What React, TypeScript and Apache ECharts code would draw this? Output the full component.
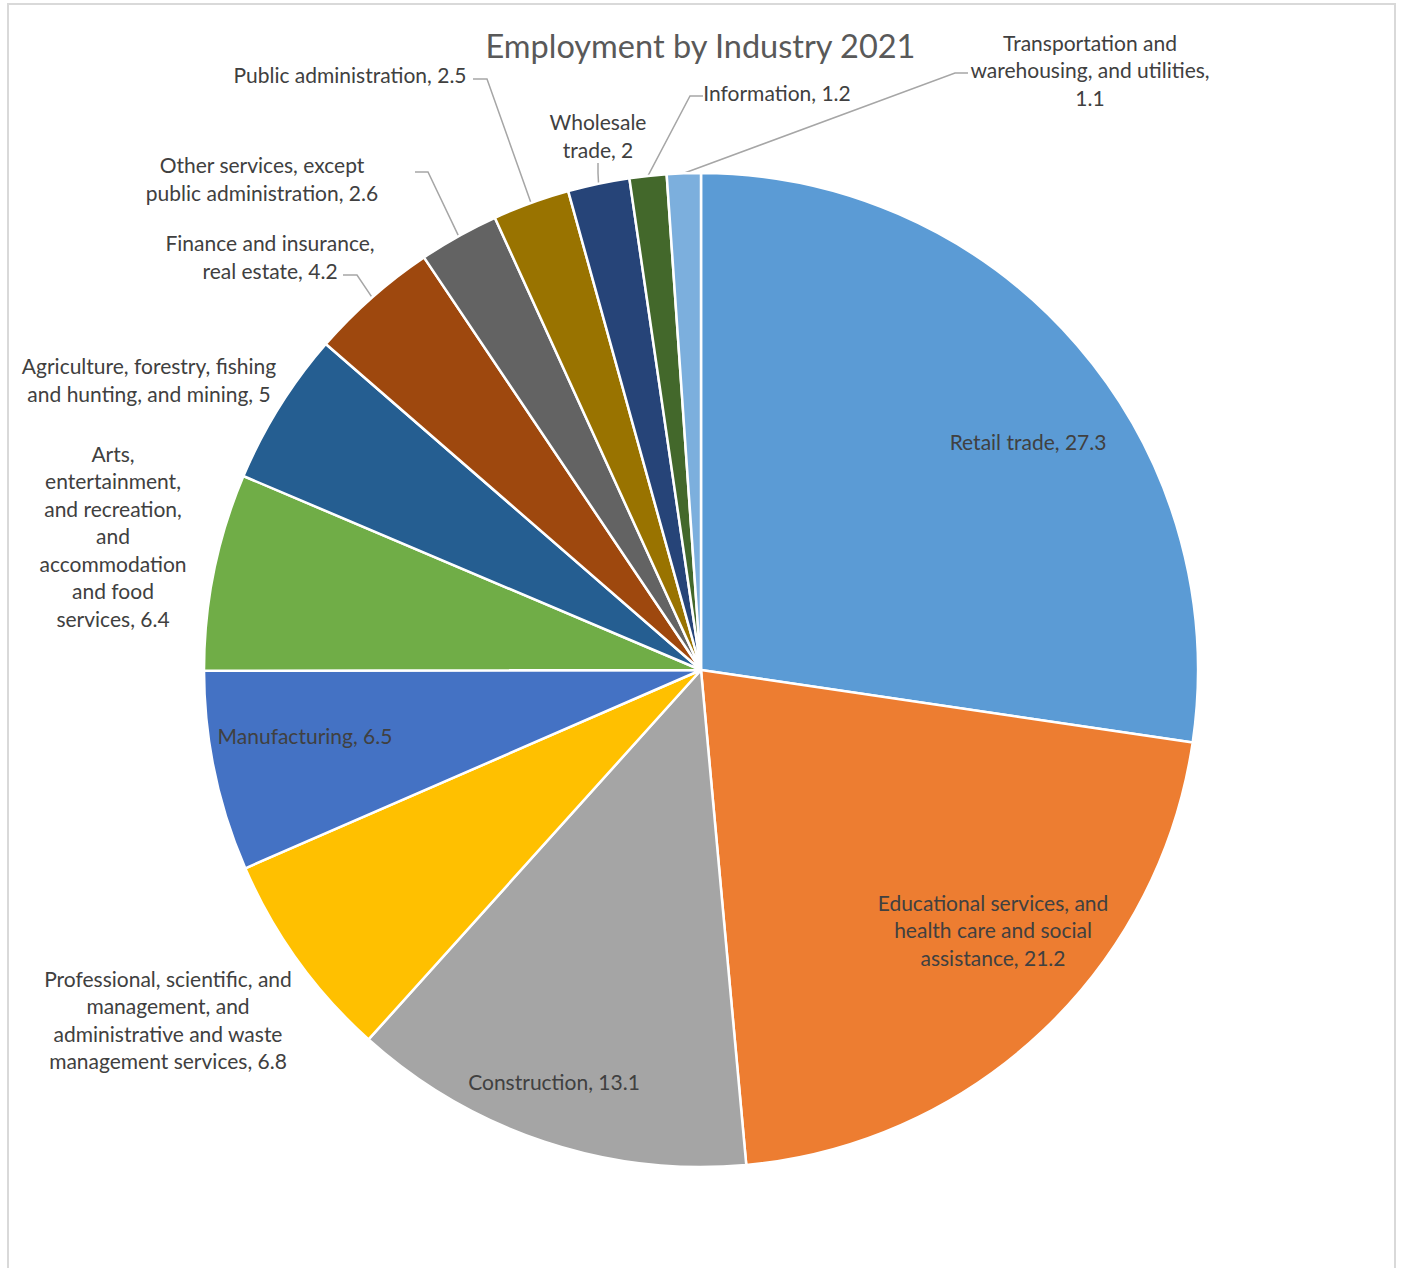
import React, { useEffect, useRef } from 'react';
import * as echarts from 'echarts';

const categories = [
  'Retail trade',
  'Educational services, and health care and social assistance',
  'Construction',
  'Professional, scientific, and management, and administrative and waste management services',
  'Manufacturing',
  'Arts, entertainment, and recreation, and accommodation and food services',
  'Agriculture, forestry, fishing and hunting, and mining',
  'Finance and insurance, real estate',
  'Other services, except public administration',
  'Public administration',
  'Wholesale trade',
  'Information',
  'Transportation and warehousing, and utilities',
];
const values = [27.3, 21.2, 13.1, 6.8, 6.5, 6.4, 5, 4.2, 2.6, 2.5, 2, 1.2, 1.1];
const colors = [
  '#5B9BD5', '#ED7D31', '#A5A5A5', '#FFC000', '#4472C4', '#70AD47', '#255E91',
  '#9E480E', '#636363', '#997300', '#264478', '#43682B', '#7CAFDD',
];
// Category names wrapped as in the reference labels
const wrappedNames = [
  'Retail trade',
  'Educational services, and\nhealth care and social\nassistance',
  'Construction',
  'Professional, scientific, and\nmanagement, and\nadministrative and waste\nmanagement services',
  'Manufacturing',
  'Arts,\nentertainment,\nand recreation,\nand\naccommodation\nand food\nservices',
  'Agriculture, forestry, fishing\nand hunting, and mining',
  'Finance and insurance,\nreal estate',
  'Other services, except\npublic administration',
  'Public administration',
  'Wholesale\ntrade',
  'Information',
  'Transportation and\nwarehousing, and utilities,\n',
];
const insideLabels = [0, 1, 2, 4];
const noLineLabels = [3, 5, 6];
const titleText = 'Employment by Industry 2021';

// Layout (label centres and leader stubs)
const CX = 701;
const CY = 670;
const R = 497;
const LABEL_DY = -1.5;
const labelPos: [number, number][] = [
  [1028, 443], [993, 931], [554, 1083], [168, 1021], [305, 737], [113, 537],
  [149, 381], [270, 258], [262, 180], [350, 76], [598, 137], [777, 94], [1090, 71],
];
const leaderStub: Record<number, [number, number][]> = {
  7: [[357, 275], [343, 275]],
  8: [[428, 172], [415, 172]],
  9: [[487, 79], [473, 79]],
  10: [[598, 173], [598, 163]],
  11: [[690, 96], [703, 96]],
  12: [[955, 73], [968, 73]],
};

export default function App() {
  const ref = useRef<HTMLDivElement>(null);
  useEffect(() => {
    if (!ref.current) return;
    const chart = echarts.init(ref.current, undefined, { renderer: 'svg' });
    const total = values.reduce((a, b) => a + b, 0);
    const mids: number[] = [];
    let acc = 0;
    values.forEach((v) => {
      mids.push((acc + v / 2) / total);
      acc += v;
    });
    const arcPoint = (i: number): [number, number] => {
      const t = mids[i] * Math.PI * 2;
      return [CX + R * Math.sin(t), CY - R * Math.cos(t)];
    };
    const data = categories.map((name, i) => {
      const inside = insideLabels.includes(i);
      const noLine = noLineLabels.includes(i);
      return {
        name,
        value: values[i],
        itemStyle: { color: colors[i] },
        label: { position: inside ? 'inside' : 'outside' },
        labelLine: { show: !inside && !noLine },
      };
    });
    chart.setOption({
      animation: false,
      backgroundColor: '#ffffff',
      title: {
        text: titleText,
        left: 'center',
        top: 20,
        textStyle: {
          fontFamily: 'Lato',
          fontSize: 32.5,
          fontWeight: 'normal',
          color: '#595959',
          lineHeight: 40,
        },
      },
      graphic: [
        {
          type: 'rect',
          shape: { x: 8, y: 4, width: 1387, height: 1320 },
          style: { fill: 'none', stroke: '#D9D9D9', lineWidth: 2 },
          silent: true,
        },
      ],
      series: [
        {
          type: 'pie',
          center: [CX, CY],
          radius: R,
          startAngle: 90,
          clockwise: true,
          avoidLabelOverlap: false,
          emphasis: { disabled: true },
          itemStyle: { borderColor: '#ffffff', borderWidth: 2.5 },
          label: {
            show: true,
            fontFamily: 'Lato',
            fontSize: 21,
            lineHeight: 27.5,
            color: '#404040',
            align: 'center',
            formatter: (p: any) => {
              const n = wrappedNames[p.dataIndex];
              return n.endsWith('\n') ? `${n}${p.value}` : `${n}, ${p.value}`;
            },
          },
          labelLine: {
            lineStyle: { color: '#A6A6A6', width: 1.5 },
          },
          labelLayout: (params: any) => {
            const i = params.dataIndex;
            const [x, y] = labelPos[i];
            const out: any = { x, y: y + LABEL_DY, align: 'center', verticalAlign: 'middle' };
            if (leaderStub[i]) {
              out.labelLinePoints = [arcPoint(i), ...leaderStub[i]];
            }
            return out;
          },
          data,
        },
      ],
    });
    return () => chart.dispose();
  }, []);
  return (
    <div
      ref={ref}
      style={{ position: 'absolute', left: 0, top: 0, width: 1401, height: 1268 }}
    />
  );
}
